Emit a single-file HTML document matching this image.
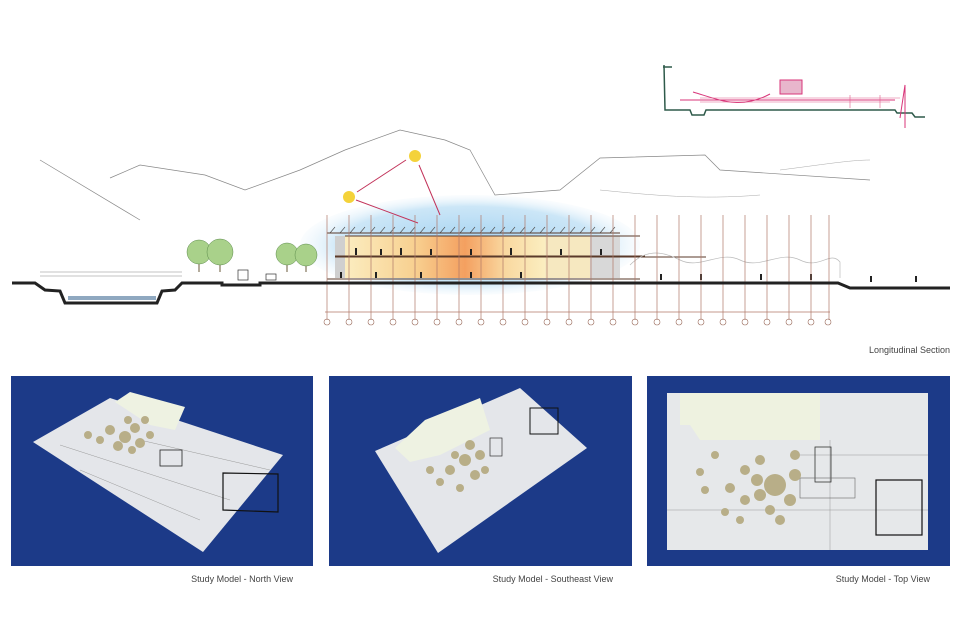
<!DOCTYPE html>
<html><head><meta charset="utf-8"><style>
html,body{margin:0;padding:0;background:#fff;}
body{width:960px;height:639px;position:relative;overflow:hidden;font-family:"Liberation Sans",sans-serif;}
.lbl{position:absolute;font-size:9px;color:#444;}
</style></head><body>
<svg width="960" height="639" style="position:absolute;left:0;top:0" xmlns="http://www.w3.org/2000/svg">
<defs>
<radialGradient id="sky" cx="0.5" cy="0.5" r="0.55"><stop offset="0" stop-color="#8ac6ee"/><stop offset="0.7" stop-color="#bfe0f5"/><stop offset="1" stop-color="#fff" stop-opacity="0"/></radialGradient>
<linearGradient id="warm" x1="0" x2="1"><stop offset="0" stop-color="#fbedc0"/><stop offset="0.35" stop-color="#f8d090"/><stop offset="0.6" stop-color="#f4a060"/><stop offset="0.8" stop-color="#f9d8a0"/><stop offset="1" stop-color="#fbeec0"/></linearGradient>
</defs>
<!-- inset sketch -->
<g stroke-width="1" fill="none">
<path d="M663 67 H672 M664 65 L665 110 H690 L692 115 H704 L706 110 H895 L897 113 H912 L915 117 H925" stroke="#2e5a4a" stroke-width="1.5"/>
<path d="M680 100 H895 M693 92 C720 100 740 110 770 94 M900 118 L905 85 V128" stroke="#d8367a"/>
<rect x="780" y="80" width="22" height="14" fill="#e8b6cc" stroke="#d8367a"/>
<path d="M700 98 H900 M700 102 H890 M850 95 V108 M880 95 V108" stroke="#e05a8a" stroke-width="0.6"/>
</g>
<!-- mountains -->
<path d="M40 160 L140 220 M110 178 L140 165 L205 175 L245 190 L300 170 L345 150 L400 130 L445 140 L470 150 L495 195 L560 190 L600 158 L705 155 L720 170 L870 180" stroke="#888" stroke-width="0.7" fill="none"/>
<path d="M600 190 C650 195 700 200 760 195 M780 170 C820 165 850 160 870 160" stroke="#aaa" stroke-width="0.5" fill="none"/>
<!-- sky wash -->
<ellipse cx="470" cy="245" rx="170" ry="50" fill="url(#sky)" opacity="0.8"/>
<!-- sun arrows -->
<circle cx="349" cy="197" r="6" fill="#f4d23a"/><circle cx="415" cy="156" r="6" fill="#f4d23a"/>
<path d="M357 192 L406 160 M356 200 L418 223 M419 165 L440 215" stroke="#c2335a" stroke-width="1"/>
<!-- trees left -->
<g stroke="#6a5a3a" stroke-width="1"><path d="M199 262V272 M220 262V272 M287 262V272 M306 262V272"/></g>
<g fill="#a9d18a" stroke="#5a8a4a" stroke-width="0.5">
<circle cx="199" cy="252" r="12"/><circle cx="220" cy="252" r="13"/><circle cx="287" cy="254" r="11"/><circle cx="306" cy="255" r="11"/>
</g>
<rect x="238" y="270" width="10" height="10" fill="#fff" stroke="#333" stroke-width="0.7"/>
<rect x="266" y="274" width="10" height="6" fill="#fff" stroke="#333" stroke-width="0.7"/>
<!-- building interior -->
<rect x="345" y="236" width="200" height="42" fill="url(#warm)"/>
<rect x="545" y="236" width="60" height="42" fill="#f6e8c0"/>
<rect x="335" y="236" width="10" height="42" fill="#cfcfcf"/>
<rect x="590" y="236" width="30" height="42" fill="#d8d8d8"/>
<!-- roof hatch -->
<g stroke="#555" stroke-width="0.7">
<path d="M330 233 l5 -6 M340 233 l5 -6 M350 233 l5 -6 M360 233 l5 -6 M370 233 l5 -6 M380 233 l5 -6 M390 233 l5 -6 M400 233 l5 -6 M410 233 l5 -6 M420 233 l5 -6 M430 233 l5 -6 M440 233 l5 -6 M450 233 l5 -6 M460 233 l5 -6 M470 233 l5 -6 M480 233 l5 -6 M490 233 l5 -6 M500 233 l5 -6 M510 233 l5 -6 M520 233 l5 -6 M530 233 l5 -6 M540 233 l5 -6 M550 233 l5 -6 M560 233 l5 -6 M570 233 l5 -6 M580 233 l5 -6 M590 233 l5 -6 M600 233 l5 -6 M610 233 l5 -6"/>
</g>
<g stroke="#5a3a2a" stroke-width="0.9">
<path d="M327 233 H620 M345 236 H640 M335 256 H645 M335 257 H706 M327 279 H640"/>
</g>
<!-- people -->
<g fill="#222">
<rect x="355" y="248" width="2" height="7"/><rect x="380" y="249" width="2" height="6"/><rect x="400" y="248" width="2" height="7"/><rect x="430" y="249" width="2" height="6"/><rect x="470" y="249" width="2" height="6"/><rect x="510" y="248" width="2" height="7"/><rect x="560" y="249" width="2" height="6"/><rect x="600" y="249" width="2" height="6"/>
<rect x="340" y="272" width="2" height="6"/><rect x="375" y="272" width="2" height="6"/><rect x="420" y="272" width="2" height="6"/><rect x="470" y="272" width="2" height="6"/><rect x="520" y="272" width="2" height="6"/><rect x="660" y="274" width="2" height="6"/><rect x="700" y="274" width="2" height="6"/><rect x="760" y="274" width="2" height="6"/><rect x="810" y="274" width="2" height="6"/><rect x="870" y="276" width="2" height="6"/><rect x="915" y="276" width="2" height="6"/>
</g>
<!-- right canopy sketch -->
<path d="M630 265 C645 250 660 250 680 260 S720 250 740 260 S780 250 800 260 S830 250 840 262 V278" stroke="#bbb" fill="none" stroke-width="0.7"/>
<!-- columns -->
<g stroke="#b07868" stroke-width="0.7">
<path d="M327 215V320 M349 215V320 M371 215V320 M393 215V320 M415 215V320 M437 215V320 M459 215V320 M481 215V320 M503 215V320 M525 215V320 M547 215V320 M569 215V320 M591 215V320 M613 215V320 M635 215V320 M657 215V320 M679 215V320 M701 215V320 M723 215V320 M745 215V320 M767 215V320 M789 215V320 M811 215V320 M829 215V320"/>
<path d="M325 312 H830" />
</g>
<g fill="none" stroke="#9a6a5a" stroke-width="0.6">
<circle cx="327" cy="322" r="3"/><circle cx="349" cy="322" r="3"/><circle cx="371" cy="322" r="3"/><circle cx="393" cy="322" r="3"/><circle cx="415" cy="322" r="3"/><circle cx="437" cy="322" r="3"/><circle cx="459" cy="322" r="3"/><circle cx="481" cy="322" r="3"/><circle cx="503" cy="322" r="3"/><circle cx="525" cy="322" r="3"/><circle cx="547" cy="322" r="3"/><circle cx="569" cy="322" r="3"/><circle cx="591" cy="322" r="3"/><circle cx="613" cy="322" r="3"/><circle cx="635" cy="322" r="3"/><circle cx="657" cy="322" r="3"/><circle cx="679" cy="322" r="3"/><circle cx="701" cy="322" r="3"/><circle cx="723" cy="322" r="3"/><circle cx="745" cy="322" r="3"/><circle cx="767" cy="322" r="3"/><circle cx="789" cy="322" r="3"/><circle cx="811" cy="322" r="3"/><circle cx="828" cy="322" r="3"/>
</g>
<!-- ground -->
<path d="M12 283 H35 L45 290 L60 291 L65 303 H157 L162 291 L175 290 L182 283 H222 V285 H260 V283 H838 L850 288 H950" stroke="#222" stroke-width="3" fill="none"/>
<rect x="68" y="296" width="88" height="4" fill="#8fa8c0"/>
<path d="M40 272 H182 M40 276 H182" stroke="#888" stroke-width="0.6"/>
<!-- panels -->
<rect x="11" y="376" width="302" height="190" fill="#1c3a88"/>
<rect x="329" y="376" width="303" height="190" fill="#1c3a88"/>
<rect x="647" y="376" width="303" height="190" fill="#1c3a88"/>
<polygon points="33,442 110,398 283,455 203,552" fill="#e4e6ea"/>
<g stroke="#999" stroke-width="0.5" fill="none"><path d="M60 445 L230 500 M80 470 L200 520 M140 440 L270 470"/></g>
<polygon points="115,402 130,392 185,407 175,430 150,425" fill="#eef2e2"/>
<polygon points="223,473 278,474 278,512 223,510" fill="none" stroke="#111" stroke-width="1.2"/>
<rect x="160" y="450" width="22" height="16" fill="none" stroke="#222" stroke-width="0.8"/>
<g fill="#b8ae88"><circle cx="110" cy="430" r="5"/><circle cx="125" cy="437" r="6"/><circle cx="135" cy="428" r="5"/><circle cx="140" cy="443" r="5"/><circle cx="100" cy="440" r="4"/><circle cx="118" cy="446" r="5"/><circle cx="150" cy="435" r="4"/><circle cx="128" cy="420" r="4"/><circle cx="145" cy="420" r="4"/><circle cx="88" cy="435" r="4"/><circle cx="132" cy="450" r="4"/></g>
<polygon points="375,451 520,388 587,448 438,553" fill="#e4e6ea"/>
<polygon points="395,448 425,420 480,398 490,430 440,455 410,462" fill="#eef2e2"/>
<rect x="530" y="408" width="28" height="26" fill="none" stroke="#111" stroke-width="1"/>
<rect x="490" y="438" width="12" height="18" fill="none" stroke="#333" stroke-width="0.7"/>
<g fill="#b8ae88"><circle cx="450" cy="470" r="5"/><circle cx="465" cy="460" r="6"/><circle cx="475" cy="475" r="5"/><circle cx="480" cy="455" r="5"/><circle cx="440" cy="482" r="4"/><circle cx="460" cy="488" r="4"/><circle cx="470" cy="445" r="5"/><circle cx="485" cy="470" r="4"/><circle cx="455" cy="455" r="4"/><circle cx="430" cy="470" r="4"/></g>
<rect x="667" y="393" width="261" height="157" fill="#e6e8ea"/>
<polygon points="680,393 820,393 820,440 700,440 690,425 680,425" fill="#eef2e0"/>
<g stroke="#999" stroke-width="0.5" fill="none"><path d="M667 510 H928 M790 455 H928 M830 440 V550"/></g>
<rect x="876" y="480" width="46" height="55" fill="none" stroke="#111" stroke-width="1.2"/>
<rect x="815" y="447" width="16" height="35" fill="none" stroke="#333" stroke-width="0.8"/>
<rect x="800" y="478" width="55" height="20" fill="none" stroke="#666" stroke-width="0.6"/>
<g fill="#b8ae88"><circle cx="775" cy="485" r="11"/><circle cx="757" cy="480" r="6"/><circle cx="760" cy="495" r="6"/><circle cx="795" cy="475" r="6"/><circle cx="790" cy="500" r="6"/><circle cx="745" cy="500" r="5"/><circle cx="730" cy="488" r="5"/><circle cx="770" cy="510" r="5"/><circle cx="700" cy="472" r="4"/><circle cx="705" cy="490" r="4"/><circle cx="725" cy="512" r="4"/><circle cx="745" cy="470" r="5"/><circle cx="795" cy="455" r="5"/><circle cx="760" cy="460" r="5"/><circle cx="740" cy="520" r="4"/><circle cx="780" cy="520" r="5"/><circle cx="715" cy="455" r="4"/></g>
</svg>
<div class="lbl" style="right:10px;top:345px;">Longitudinal Section</div>
<div class="lbl" style="right:667px;top:574px;">Study Model - North View</div>
<div class="lbl" style="right:347px;top:574px;">Study Model - Southeast View</div>
<div class="lbl" style="right:30px;top:574px;">Study Model - Top View</div>
</body></html>
